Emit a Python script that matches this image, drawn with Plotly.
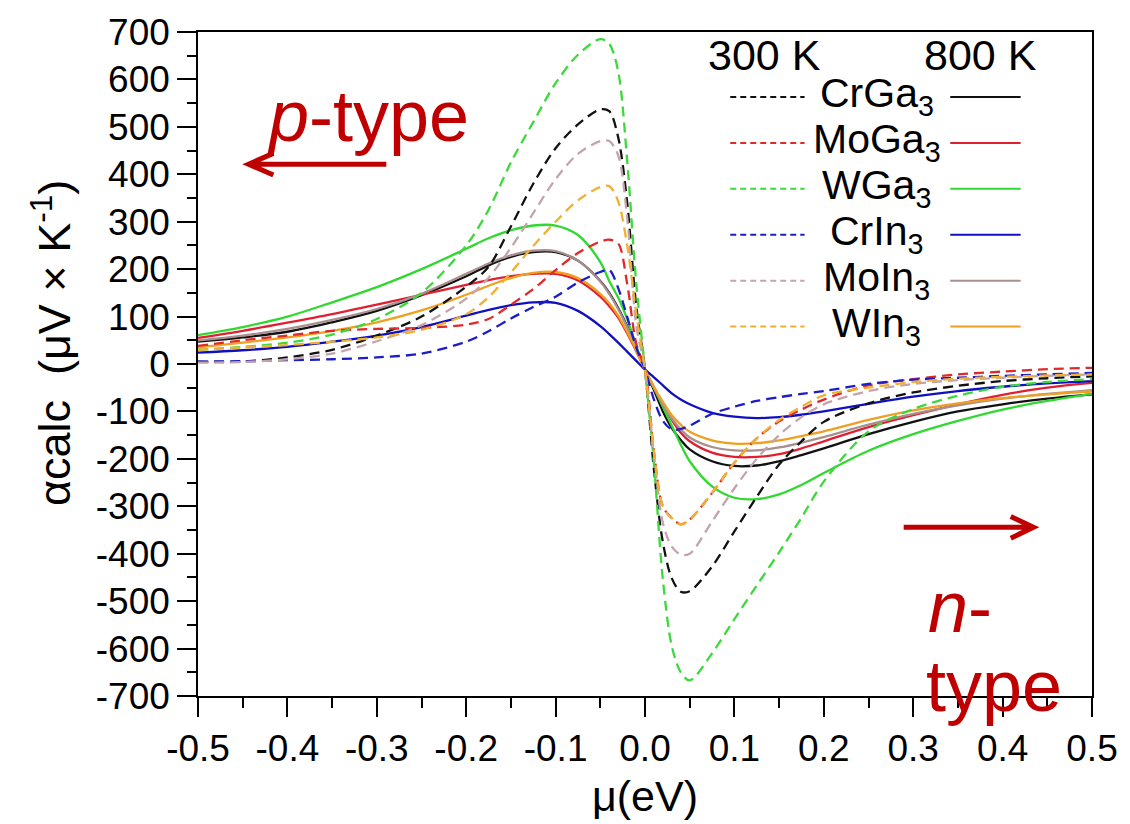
import plotly.graph_objects as go

# Chemical potential grid (eV)
mu = [-0.5, -0.45, -0.4, -0.35, -0.3, -0.25, -0.2, -0.175, -0.15, -0.125, -0.1, -0.075,
      -0.05, -0.04, -0.03, -0.02, -0.01, 0.0, 0.01, 0.02, 0.03, 0.04, 0.05, 0.075,
      0.1, 0.125, 0.15, 0.175, 0.2, 0.25, 0.3, 0.35, 0.4, 0.45, 0.5]

# Seebeck coefficient (uV/K) at 300 K
crga3_300 = [5, 5, 14, 30, 60, 100, 163, 205, 290, 380, 455, 505,
             537, 533, 478, 342, 125, -12, -222, -376, -452, -480, -479, -427,
             -353, -280, -212, -163, -122, -83, -60, -46, -36, -30, -26]
moga3_300 = [38, 50, 60, 70, 74, 76, 83, 95, 125, 158, 198, 234,
             258, 262, 254, 170, 45, -12, -185, -300, -325, -338, -328, -272,
             -208, -157, -121, -96, -75, -45, -32, -22, -16, -11, -8]
wga3_300 = [30, 36, 45, 62, 95, 150, 250, 325, 425, 510, 592, 652,
            685, 675, 617, 430, 174, -12, -210, -455, -595, -650, -667, -610,
            -538, -467, -397, -324, -248, -142, -95, -67, -48, -38, -32]
crin3_300 = [5, 6, 8, 10, 14, 22, 47, 69, 96, 120, 142, 172,
             194, 198, 160, 100, 36, -12, -75, -120, -138, -137, -130, -105,
             -90, -78, -70, -63, -57, -42, -33, -29, -25, -22, -19]
moin3_300 = [3, 4, 10, 22, 48, 82, 138, 182, 245, 318, 390, 443,
             470, 470, 440, 310, 85, -12, -190, -335, -385, -402, -400, -332,
             -262, -200, -150, -112, -85, -57, -42, -34, -29, -25, -22]
win3_300 = [30, 35, 40, 47, 56, 72, 105, 141, 193, 249, 300, 345,
            373, 375, 343, 251, 110, -12, -185, -300, -325, -338, -328, -272,
            -208, -157, -118, -90, -66, -50, -38, -31, -27, -24, -22]

# Seebeck coefficient (uV/K) at 800 K
crga3_800 = [47, 56, 68, 88, 112, 145, 185, 208, 226, 236, 236, 218,
             175, 150, 118, 80, 35, -12, -55, -100, -135, -160, -180, -205,
             -215, -214, -205, -192, -178, -148, -122, -100, -85, -73, -64]
moga3_800 = [55, 70, 87, 105, 125, 146, 167, 177, 185, 190, 190, 176,
             142, 122, 98, 65, 28, -12, -50, -88, -118, -145, -163, -187,
             -196, -196, -190, -178, -163, -133, -108, -85, -65, -50, -40]
wga3_800 = [61, 78, 100, 130, 162, 200, 243, 265, 282, 292, 292, 272,
            215, 175, 140, 95, 40, -12, -50, -90, -130, -170, -205, -258,
            -282, -285, -275, -255, -230, -183, -148, -120, -96, -78, -63]
crin3_800 = [24, 29, 36, 47, 60, 78, 102, 114, 124, 130, 129, 112,
             80, 63, 45, 26, 7, -12, -28, -45, -62, -75, -85, -103,
             -111, -114, -112, -107, -100, -84, -69, -57, -48, -41, -36]
moin3_800 = [50, 60, 74, 93, 116, 148, 190, 212, 229, 239, 238, 218,
             174, 148, 116, 78, 33, -12, -50, -85, -115, -138, -155, -175,
             -182, -182, -176, -166, -154, -128, -105, -87, -73, -63, -55]
win3_800 = [35, 45, 56, 70, 88, 113, 146, 165, 181, 192, 194, 181,
            148, 128, 102, 68, 30, -12, -48, -80, -108, -128, -143, -161,
            -168, -167, -161, -152, -142, -118, -98, -83, -72, -64, -58]

compounds = ["CrGa<sub>3</sub>", "MoGa<sub>3</sub>", "WGa<sub>3</sub>",
             "CrIn<sub>3</sub>", "MoIn<sub>3</sub>", "WIn<sub>3</sub>"]
series_300 = [crga3_300, moga3_300, wga3_300, crin3_300, moin3_300, win3_300]
series_800 = [crga3_800, moga3_800, wga3_800, crin3_800, moin3_800, win3_800]
colors_300 = ["#111111", "#E02A2A", "#3CD83C", "#1C1CC8", "#C4A4AC", "#F0B030"]
colors_800 = ["#111111", "#E02030", "#30D830", "#1010C0", "#A89090", "#F0A020"]

x_ticks = [-0.5, -0.4, -0.3, -0.2, -0.1, 0.0, 0.1, 0.2, 0.3, 0.4, 0.5]
x_labels = ["-0.5", "-0.4", "-0.3", "-0.2", "-0.1", "0.0", "0.1", "0.2", "0.3", "0.4", "0.5"]
y_ticks = [700, 600, 500, 400, 300, 200, 100, 0, -100, -200, -300, -400, -500, -600, -700]
y_labels = [str(v) for v in y_ticks]

FONT = "Liberation Sans, Arial, Helvetica, sans-serif"
RED = "#C00000"
DASH = "10px,6px"

# Plot-area geometry in page pixels, used to place the key and labels
L, R, T, B = 198, 1100, 23, 696
W, H = float(R - L), float(B - T)
def px(xp):
    return (xp - L) / W
def py(yp):
    return (B - yp) / H

fig = go.Figure()

for name, ys, c in zip(compounds, series_800, colors_800):
    fig.add_trace(go.Scatter(x=mu, y=ys, mode="lines", name=name + " 800 K",
                             line=dict(color=c, width=2.3, shape="spline", smoothing=1.0),
                             showlegend=False))
for name, ys, c in zip(compounds, series_300, colors_300):
    fig.add_trace(go.Scatter(x=mu, y=ys, mode="lines", name=name + " 300 K",
                             line=dict(color=c, width=2.3, dash=DASH, shape="spline", smoothing=0.9),
                             showlegend=False))

# Two-column key: 300 K dashed sample | compound | 800 K solid sample
row_y = [89, 135.5, 182, 228.5, 275, 321.5]
for i, name in enumerate(compounds):
    yy = py(row_y[i])
    fig.add_shape(type="line", xref="paper", yref="paper", x0=px(735), x1=px(810), y0=yy, y1=yy,
                  line=dict(color=colors_300[i], width=2, dash="6px,4px"))
    fig.add_shape(type="line", xref="paper", yref="paper", x0=px(957), x1=px(1028), y0=yy, y1=yy,
                  line=dict(color=colors_800[i], width=2))
    fig.add_annotation(xref="paper", yref="paper", x=px(883), y=py(row_y[i] - 1),
                       text=name, showarrow=False, xanchor="center", yanchor="middle",
                       font=dict(family=FONT, size=41, color="black"))

fig.add_annotation(xref="paper", yref="paper", x=px(770), y=py(46), text="300 K", showarrow=False,
                   xanchor="center", yanchor="middle", font=dict(family=FONT, size=43, color="black"))
fig.add_annotation(xref="paper", yref="paper", x=px(988), y=py(46), text="800 K", showarrow=False,
                   xanchor="center", yanchor="middle", font=dict(family=FONT, size=43, color="black"))

# p-type / n-type labels with arrows
fig.add_annotation(xref="paper", yref="paper", x=px(370), y=py(108), text="<i>p</i>-type",
                   showarrow=False, xanchor="center", yanchor="middle",
                   font=dict(family=FONT, size=72, color=RED))
fig.add_annotation(xref="paper", yref="paper", x=px(933), y=py(606), text="<i>n</i>-",
                   showarrow=False, xanchor="left", yanchor="middle",
                   font=dict(family=FONT, size=72, color=RED))
fig.add_annotation(xref="paper", yref="paper", x=px(930), y=py(686), text="type",
                   showarrow=False, xanchor="left", yanchor="middle",
                   font=dict(family=FONT, size=72, color=RED))

def arrow_path(x_tail, x_tip, yp, head_dx, head_dy):
    xt, xh = px(x_tail), px(x_tip)
    y = py(yp)
    xb = px(x_tip + head_dx)
    return (f"M{xt},{y} L{xh},{y} M{xb},{py(yp - head_dy)} L{xh},{y} L{xb},{py(yp + head_dy)}")

fig.add_shape(type="path", xref="paper", yref="paper",
              path=arrow_path(388, 249, 157, 25, 11), line=dict(color=RED, width=5))
fig.add_shape(type="path", xref="paper", yref="paper",
              path=arrow_path(910, 1041, 525, -23, 11), line=dict(color=RED, width=5))

# Axis titles
fig.add_annotation(xref="paper", yref="paper", x=px(50), y=py(338),
                   text="\u03b1calc  (\u03bcV \u00d7 K<sup>-1</sup>)", textangle=-90,
                   showarrow=False, xanchor="center", yanchor="middle",
                   font=dict(family=FONT, size=45, color="black"))
fig.add_annotation(xref="paper", yref="paper", x=px(649), y=py(797), text="\u03bc(eV)",
                   showarrow=False, xanchor="center", yanchor="middle",
                   font=dict(family=FONT, size=43, color="black"))

axis_common = dict(showline=True, linecolor="black", linewidth=1.5, mirror=True,
                   ticks="outside", tickcolor="black", tickwidth=1.5, ticklen=19,
                   showgrid=False, zeroline=False,
                   tickfont=dict(family=FONT, size=37, color="black"))

fig.update_xaxes(range=[-0.5, 0.5], tickmode="array", tickvals=x_ticks, ticktext=x_labels,
                 minor=dict(ticks="outside", ticklen=10, tickwidth=1.5, tickcolor="black", dtick=0.05),
                 **axis_common)
fig.update_yaxes(range=[-700, 700], tickmode="array", tickvals=y_ticks, ticktext=y_labels,
                 minor=dict(ticks="outside", ticklen=9, tickwidth=1.5, tickcolor="black", dtick=50),
                 **axis_common)

fig.update_layout(width=1130, height=824, margin=dict(l=L, r=1130 - R, t=T, b=824 - B, pad=0),
                  paper_bgcolor="white", plot_bgcolor="white", showlegend=False)

fig.write_html("out.html")
